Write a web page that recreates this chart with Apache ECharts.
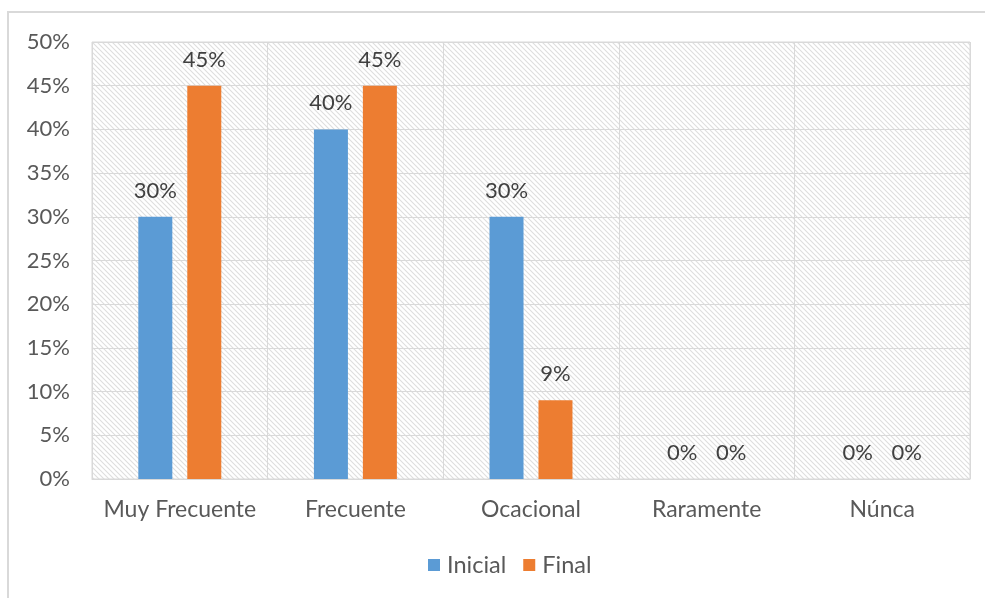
<!DOCTYPE html>
<html><head><meta charset="utf-8">
<script src="https://cdn.jsdelivr.net/npm/echarts@6/dist/echarts.min.js"></script>
<style>html,body{margin:0;padding:0;background:#fff}#c{width:985px;height:598px}</style>
</head><body><div id="c"></div>
<script>
var categories = ['Muy Frecuente', 'Frecuente', 'Ocacional', 'Raramente', 'Núnca'];
var inicial = [30, 40, 30, 0, 0];
var final_ = [45, 45, 9, 0, 0];
var seriesNames = ['Inicial', 'Final'];

var tile = document.createElement('canvas');
var T = 5;
tile.width = T; tile.height = T;
var g = tile.getContext('2d');
g.fillStyle = '#ffffff'; g.fillRect(0, 0, T, T);
g.strokeStyle = '#dedede'; g.lineWidth = 1.1;
g.beginPath();
g.moveTo(-1, -1); g.lineTo(T + 1, T + 1);
g.moveTo(-1, T - 1); g.lineTo(1, T + 1);
g.moveTo(T - 1, -1); g.lineTo(T + 1, 1);
g.stroke();

var font = 'Lato, "Open Sans", "Liberation Sans", sans-serif';
var chart = echarts.init(document.getElementById('c'));
chart.setOption({
  animation: false,
  backgroundColor: '#ffffff',
  textStyle: { fontFamily: font },
  graphic: [{ type: 'rect', shape: { x: 8, y: 12, width: 1000, height: 700 }, style: { fill: 'none', stroke: '#d9d9d9', lineWidth: 2 }, silent: true }],
  grid: { left: 92, right: 15, top: 42, bottom: 119, show: true, backgroundColor: { image: tile, repeat: 'repeat' }, borderColor: '#d9d9d9', borderWidth: 1 },
  legend: {
    data: seriesNames, bottom: 16, left: 423, itemWidth: 12, itemHeight: 12, itemGap: 17,
    icon: 'rect', textStyle: { fontSize: 23.5, color: '#595959', fontFamily: font, padding: [0, 0, 0, 2] }
  },
  xAxis: {
    type: 'category', data: categories,
    axisLine: { lineStyle: { color: '#d9d9d9' } }, axisTick: { show: false },
    splitLine: { show: true, lineStyle: { color: '#d9d9d9' } },
    axisLabel: { interval: 0, fontSize: 23, color: '#595959', margin: 19 }
  },
  yAxis: {
    type: 'value', min: 0, max: 50, interval: 5,
    axisLine: { show: false }, axisTick: { show: false },
    splitLine: { lineStyle: { color: '#d9d9d9' } },
    axisLabel: { formatter: '{value}%', fontSize: 22, color: '#595959', margin: 22 }
  },
  series: [
    { name: seriesNames[0], type: 'bar', data: inicial, barWidth: 34, barGap: '44%', itemStyle: { color: '#5b9bd5' },
      label: { show: true, position: 'top', distance: 15, formatter: '{c}%', fontSize: 22, color: '#404040' } },
    { name: seriesNames[1], type: 'bar', data: final_, barWidth: 34, itemStyle: { color: '#ed7d31' },
      label: { show: true, position: 'top', distance: 15, formatter: '{c}%', fontSize: 22, color: '#404040' } }
  ]
});
</script></body></html>
